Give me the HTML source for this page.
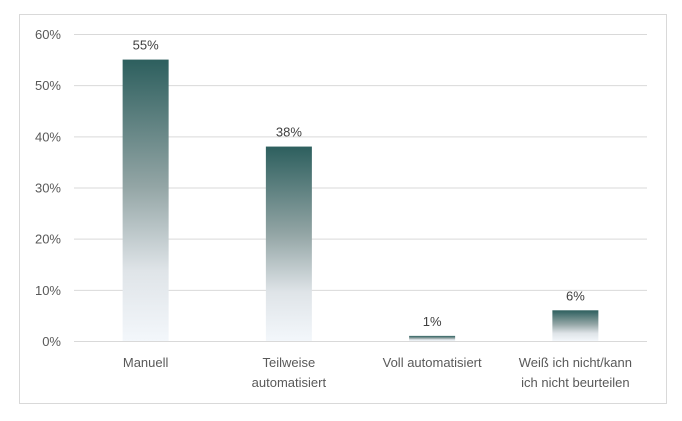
<!DOCTYPE html>
<html><head><meta charset="utf-8"><style>
html,body{margin:0;padding:0;background:#fff;}
svg{display:block;font-family:"Liberation Sans",sans-serif;}
</style></head><body>
<svg id="chart" width="682" height="421">
<defs><linearGradient id="g" x1="0" y1="0" x2="0" y2="1">
<stop offset="0" stop-color="#2d5f5e"/><stop offset="0.45" stop-color="#93a5a5"/><stop offset="0.75" stop-color="#dfe4e8"/><stop offset="1" stop-color="#f3f7fb"/></linearGradient></defs>
<rect x="19.5" y="14.5" width="647" height="389" fill="#fff" stroke="#d9d9d9"/>
<g id="grid"></g><g id="bars"></g>
</svg>
<script>
const categories=[["Manuell"],["Teilweise","automatisiert"],["Voll automatisiert"],["Weiß ich nicht/kann","ich nicht beurteilen"]];
const values=[55,38,1,6];
const ticks=[0,10,20,30,40,50,60];
const NS="http://www.w3.org/2000/svg";
const y=v=>341-v*(307/60);
const x0=74,x1=647,bw=(x1-x0)/categories.length;
const cx=i=>x0+bw*(i+0.5);
function el(t,a,p,txt){const e=document.createElementNS(NS,t);for(const k in a)e.setAttribute(k,a[k]);if(txt!=null)e.textContent=txt;p.appendChild(e);return e;}
const grid=document.getElementById('grid'),bars=document.getElementById('bars');
ticks.forEach(t=>{
 const l=el('line',{x1:x0,x2:x1,y1:y(t)+0.5,y2:y(t)+0.5,stroke:'#d9d9d9'},grid);
 
 
 const tx=el('text',{x:61,y:y(t)+5,'text-anchor':'end','font-size':13,fill:'#595959'},grid,t+'%');
 
 
});
values.forEach((v,i)=>{
 const r=el('rect',{x:cx(i)-23,y:y(v),width:46,height:y(0)-y(v),fill:'url(#g)'},bars);
 
 
 const lb=el('text',{x:cx(i),y:y(v)-10,'text-anchor':'middle','font-size':13,fill:'#404040'},bars,v+'%');
 
 
 categories[i].forEach((s,j)=>{
  const c=el('text',{x:cx(i),y:367+j*20,'text-anchor':'middle','font-size':13,fill:'#595959'},bars,s);
  
  
 });
});
</script>
</body></html>
